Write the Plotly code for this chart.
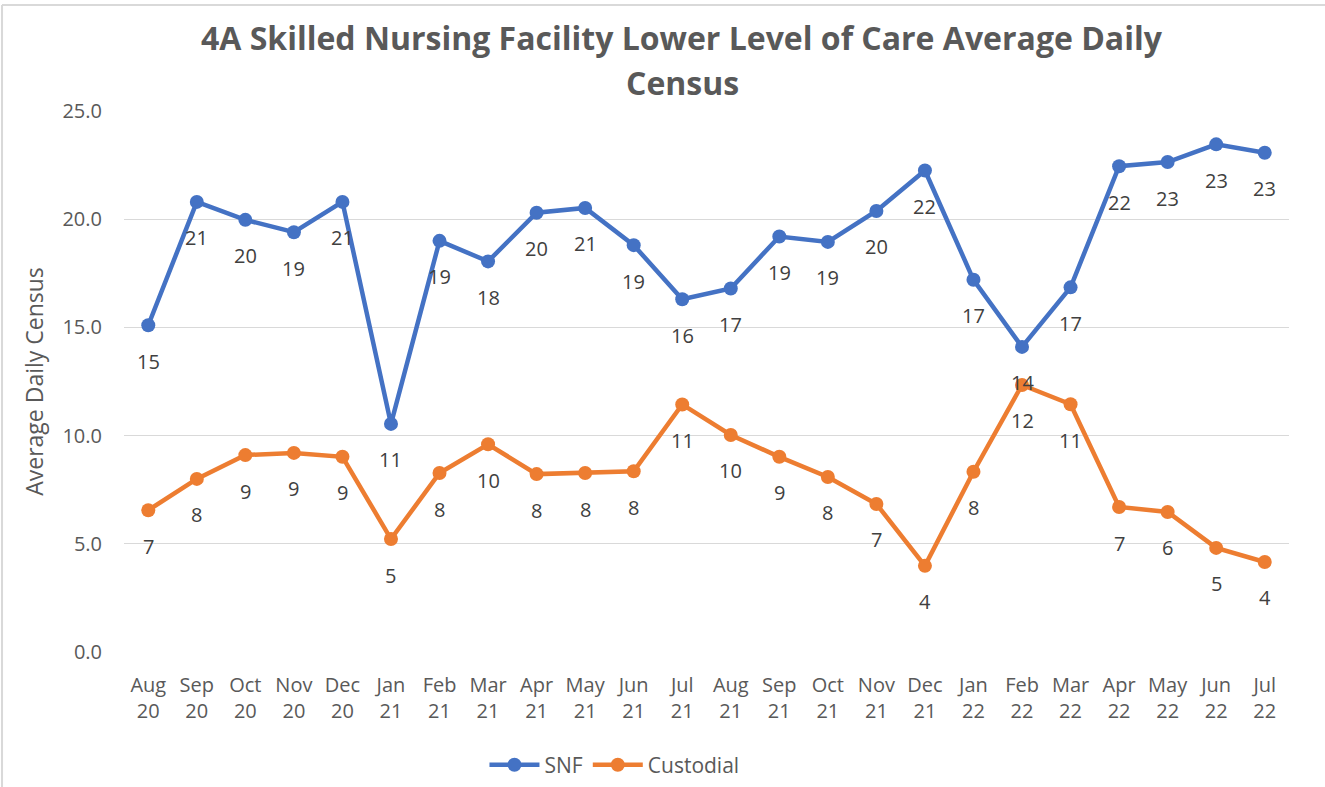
import plotly.graph_objects as go

months = ["Aug<br>20", "Sep<br>20", "Oct<br>20", "Nov<br>20", "Dec<br>20", "Jan<br>21",
          "Feb<br>21", "Mar<br>21", "Apr<br>21", "May<br>21", "Jun<br>21", "Jul<br>21",
          "Aug<br>21", "Sep<br>21", "Oct<br>21", "Nov<br>21", "Dec<br>21", "Jan<br>22",
          "Feb<br>22", "Mar<br>22", "Apr<br>22", "May<br>22", "Jun<br>22", "Jul<br>22"]

snf = [15.1, 20.8, 19.97, 19.4, 20.8, 10.54, 19.0, 18.05, 20.3, 20.52, 18.8, 16.3,
       16.8, 19.2, 18.95, 20.38, 22.25, 17.2, 14.1, 16.85, 22.45, 22.64, 23.46, 23.07]

custodial = [6.55, 8.0, 9.1, 9.2, 9.02, 5.22, 8.27, 9.6, 8.22, 8.27, 8.35, 11.44,
             10.03, 9.02, 8.09, 6.84, 3.98, 8.33, 12.34, 11.45, 6.7, 6.47, 4.81, 4.16]

title_lines = ["4A Skilled Nursing Facility Lower Level of Care Average Daily", "Census"]

SNF_COLOR = "#4472C4"
CUS_COLOR = "#ED7D31"
TEXT_GRAY = "#595959"
LABEL_GRAY = "#404040"
FONT = "Open Sans, sans-serif"

fig = go.Figure()
fig.add_trace(go.Scatter(x=months, y=snf, mode="lines+markers", name="SNF",
                         line=dict(color=SNF_COLOR, width=4.5),
                         marker=dict(color=SNF_COLOR, size=14)))
fig.add_trace(go.Scatter(x=months, y=custodial, mode="lines+markers", name="Custodial",
                         line=dict(color=CUS_COLOR, width=4.5),
                         marker=dict(color=CUS_COLOR, size=14)))

annotations = []
for series in (snf, custodial):
    for m, v in zip(months, series):
        annotations.append(dict(x=m, y=v, xref="x", yref="y", text=f"{v:.0f}",
                                showarrow=False, yshift=-36,
                                font=dict(family=FONT, size=20, color=LABEL_GRAY)))

for line_text, shift in zip(title_lines, (74, 29)):
    annotations.append(dict(x=0.479, y=1, xref="paper", yref="paper", xanchor="center",
                            yanchor="middle", yshift=shift, showarrow=False,
                            text=f"<b>{line_text}</b>",
                            font=dict(family=FONT, size=32, color=TEXT_GRAY)))

fig.update_layout(
    width=1325, height=787,
    paper_bgcolor="white", plot_bgcolor="white",
    margin=dict(l=124, r=36, t=111, b=135, autoexpand=False),
    font=dict(family=FONT, color=TEXT_GRAY),
    xaxis=dict(type="category", range=[-0.5, 23.5], showgrid=False, showline=False,
               ticks="", ticklabelstandoff=19, automargin=False,
               tickfont=dict(size=20, color=TEXT_GRAY)),
    yaxis=dict(range=[0, 25], dtick=5, tickformat=".1f", showgrid=True,
               gridcolor="#D9D9D9", gridwidth=1, zeroline=False, showline=False,
               ticks="", ticklabelstandoff=21, automargin=False,
               tickfont=dict(size=20, color=TEXT_GRAY),
               title=dict(text="Average Daily Census", font=dict(size=23, color=TEXT_GRAY),
                          standoff=12)),
    legend=dict(orientation="h", x=0.421, xanchor="center", y=-0.209, yanchor="middle",
                font=dict(family=FONT, size=21, color=TEXT_GRAY), itemwidth=50),
    annotations=annotations,
    shapes=[
        dict(type="line", xref="paper", yref="paper", x0=-0.1047, x1=-0.1047, y0=-0.26, y1=1.196,
             line=dict(color="#D9D9D9", width=2)),
        dict(type="line", xref="paper", yref="paper", x0=-0.1047, x1=1.04, y0=1.196, y1=1.196,
             line=dict(color="#D9D9D9", width=2)),
    ],
    showlegend=True,
)

fig.write_html("out.html", config={"displayModeBar": False},
               post_script="document.body.style.margin='0';")
